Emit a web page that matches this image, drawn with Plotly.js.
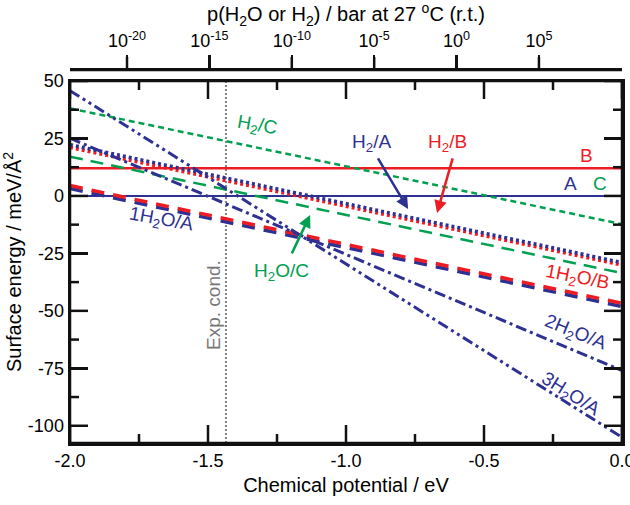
<!DOCTYPE html>
<html>
<head>
<meta charset="utf-8">
<script src="https://cdn.plot.ly/plotly-3.0.1.min.js"></script>
<style>html,body{margin:0;padding:0;background:#fff;overflow:hidden}#chart{width:630px;height:504px}</style>
</head>
<body>
<div id="chart"></div>
<script>
// Chemical potential endpoints (eV)
const mu = [-2.0, 0.0];
// Surface energies (meV/Å^2) at the endpoints
const surfA   = [0, 0];
const surfB   = [12, 12];
const h2C     = [38.1, -12.3];
const h2A     = [22.3, -29.0];
const h2B     = [21.1, -30.1];
const h2oC    = [17.1, -33.6];
const h2o1A   = [3.2, -48.1];
const h2o1B   = [4.5, -46.7];
const h2o2A   = [25.1, -76.0];
const h2o3A   = [45.8, -105.0];
const expCond = -1.435;

// Tick labels
const xTickVals = [-2.0, -1.5, -1.0, -0.5, 0.0];
const xTickText = ['-2.0', '-1.5', '-1.0', '-0.5', '0.0'];
const xMinorVals = [-1.75, -1.25, -0.75, -0.25];
const yTickVals = [50, 25, 0, -25, -50, -75, -100];
const yTickText = ['50', '25', '0', '-25', '-50', '-75', '-100'];
const yMinorVals = [37.5, 12.5, -12.5, -37.5, -62.5, -87.5];
const pExpVals = [-20, -15, -10, -5, 0, 5];
const pExpText = ['10<sup>-20</sup>', '10<sup>-15</sup>', '10<sup>-10</sup>', '10<sup>-5</sup>', '10<sup>0</sup>', '10<sup>5</sup>'];
const pRange = [-23.46, 10.04];

const BLUE = '#2E3192', RED = '#ED1C24', GREEN = '#00A050', GREY = '#808080';
const INK = '#111111';
const FONT = 'Liberation Sans, Arial, sans-serif';
const TW = 2.5;

function tr(y, color, width, dash) {
  return {x: mu, y: y, mode: 'lines', type: 'scatter', hoverinfo: 'skip',
          line: {color: color, width: width, dash: dash}};
}
const dDot = '3px,3px';
const dash1 = '13px,9px';
const dashDot = '11px,4px,3px,4px';
const dashDotDot = '11px,4px,3px,4px,3px,4px';

const data = [
  tr(surfA, BLUE, 2, 'solid'),
  tr(surfB, RED, 2.5, 'solid'),
  tr(h2C, GREEN, 2.5, '6px,4px'),
  tr(h2oC, GREEN, 2.5, '13px,8px'),
  tr(h2o1A, BLUE, 3.5, dash1),
  tr(h2o1B, RED, 3.5, dash1),
  tr(h2B, RED, 3.5, dDot),
  tr(h2A, BLUE, 3.5, dDot),
  tr(h2o2A, BLUE, 3, dashDot),
  tr(h2o3A, BLUE, 3, dashDotDot),
  {x: pExpVals, y: pExpVals.map(() => null), xaxis: 'x2', yaxis: 'y2', mode: 'markers',
   type: 'scatter', hoverinfo: 'skip', showlegend: false, marker: {opacity: 0}}
];

function lab(x, y, text, color, angle, size) {
  return {x: x, y: y, xref: 'x', yref: 'y', text: text, showarrow: false,
          textangle: angle || 0, font: {family: FONT, size: size || 19, color: color},
          xanchor: 'center', yanchor: 'middle'};
}
function arrow(x, y, ax, ay, color) {
  return {x: x, y: y, xref: 'x', yref: 'y', text: '', showarrow: true,
          ax: ax, ay: ay, arrowhead: 2, arrowsize: 1, arrowwidth: 2.5,
          arrowcolor: color, standoff: 0};
}

const tickLine = {color: INK, width: TW};
function xTicks(vals, len) {
  const out = [];
  vals.forEach(v => {
    out.push({type: 'line', xref: 'x', yref: 'y domain', ysizemode: 'pixel', yanchor: 0,
              x0: v, x1: v, y0: 0, y1: len, line: tickLine, layer: 'above'});
    out.push({type: 'line', xref: 'x', yref: 'y domain', ysizemode: 'pixel', yanchor: 1,
              x0: v, x1: v, y0: 0, y1: -len, line: tickLine, layer: 'above'});
  });
  return out;
}
function yTicks(vals, len) {
  const out = [];
  vals.forEach(v => {
    out.push({type: 'line', yref: 'y', xref: 'x domain', xsizemode: 'pixel', xanchor: 0,
              y0: v, y1: v, x0: 0, x1: len, line: tickLine, layer: 'above'});
    out.push({type: 'line', yref: 'y', xref: 'x domain', xsizemode: 'pixel', xanchor: 1,
              y0: v, y1: v, x0: 0, x1: -len, line: tickLine, layer: 'above'});
  });
  return out;
}
const pTicks = pExpVals.map(v => ({type: 'line', xref: 'x2', yref: 'paper', ysizemode: 'pixel', yanchor: 1,
  x0: v, x1: v, y0: 0, y1: 13, line: tickLine, layer: 'above'}));

const shapes = [
  {type: 'line', xref: 'x', yref: 'y domain', x0: expCond, x1: expCond, y0: 0, y1: 1,
   line: {color: GREY, width: 2, dash: '2px,2px'}, layer: 'below'},
  {type: 'rect', xref: 'x domain', yref: 'y domain', x0: 0, x1: 1, y0: 0, y1: 1,
   line: {color: INK, width: TW}, fillcolor: 'rgba(0,0,0,0)', layer: 'above'},
  {type: 'line', xref: 'paper', yref: 'paper', x0: 0, x1: 1, y0: 1, y1: 1,
   line: {color: INK, width: TW}, layer: 'above'}
].concat(xTicks(xTickVals, 18), xTicks(xMinorVals, 9), yTicks(yTickVals, 18), yTicks(yMinorVals, 9), pTicks);

const layout = {
  width: 630, height: 504,
  margin: {l: 70, r: 8, t: 70, b: 61},
  paper_bgcolor: '#fff', plot_bgcolor: '#fff',
  showlegend: false,
  font: {family: FONT, size: 18, color: '#000'},
  xaxis: {
    range: [-2, 0], tickmode: 'array', tickvals: xTickVals, ticktext: xTickText,
    ticks: 'inside', ticklen: 18, tickwidth: TW, tickcolor: INK,
    showline: true, linewidth: TW, linecolor: INK, mirror: 'allticks',
    showgrid: false, zeroline: false, ticklabeloverflow: 'allow',
    tickfont: {family: FONT, size: 18, color: '#000'},
    title: {text: 'Chemical potential / eV', font: {family: FONT, size: 20, color: '#000'}, standoff: 8}
  },
  yaxis: {
    range: [-107.5, 50], domain: [0, 0.9705],
    tickmode: 'array', tickvals: yTickVals, ticktext: yTickText,
    ticks: 'inside', ticklen: 18, tickwidth: TW, tickcolor: INK,
    showline: true, linewidth: TW, linecolor: INK, mirror: 'allticks',
    showgrid: false, zeroline: false,
    tickfont: {family: FONT, size: 18, color: '#000'},
    title: {text: 'Surface energy / meV/Å<sup>2</sup>', font: {family: FONT, size: 20, color: '#000'}, standoff: 6}
  },
  yaxis2: {
    domain: [0.9705, 1], range: [0, 1], visible: false, fixedrange: true
  },
  xaxis2: {
    anchor: 'y2', side: 'top',
    range: pRange, tickmode: 'array', tickvals: pExpVals, ticktext: pExpText,
    ticks: 'outside', ticklen: 13, tickwidth: TW, tickcolor: INK,
    showline: true, linewidth: TW, linecolor: INK,
    showgrid: false, zeroline: false, ticklabeloverflow: 'allow',
    tickfont: {family: FONT, size: 18, color: '#000'},
    title: {text: 'p(H<sub>2</sub>O or H<sub>2</sub>) / bar at 27 <sup>o</sup>C (r.t.)', font: {family: FONT, size: 20, color: '#000'}, standoff: 6}
  },
  shapes: shapes,
  annotations: [
    lab(-1.322, 30.4, 'H<sub>2</sub>/C', GREEN, 10),
    lab(-0.906, 23.0, 'H<sub>2</sub>/A', BLUE, 0),
    lab(-0.634, 23.0, 'H<sub>2</sub>/B', RED, 0),
    lab(-0.130, 17.4, 'B', RED, 0),
    lab(-0.185, 5.6, 'A', BLUE, 0),
    lab(-0.080, 5.6, 'C', GREEN, 0),
    lab(-1.232, -33.0, 'H<sub>2</sub>O/C', GREEN, 0),
    lab(-1.670, -10.4, '1H<sub>2</sub>O/A', BLUE, 10),
    lab(-0.163, -35.7, '1H<sub>2</sub>O/B', RED, 11),
    lab(-0.170, -59.6, '2H<sub>2</sub>O/A', BLUE, 22),
    lab(-0.185, -86.5, '3H<sub>2</sub>O/A', BLUE, 32),
    lab(-1.478, -47.4, 'Exp. cond.', '#777777', -90, 19),
    arrow(-0.775, -5.65, -31, -52, BLUE),
    arrow(-0.670, -7.4, 16, -56, RED),
    arrow(-1.130, -8.26, -19, 40, GREEN)
  ]
};

Plotly.newPlot('chart', data, layout, {staticPlot: true, displayModeBar: false});
</script>
</body>
</html>
